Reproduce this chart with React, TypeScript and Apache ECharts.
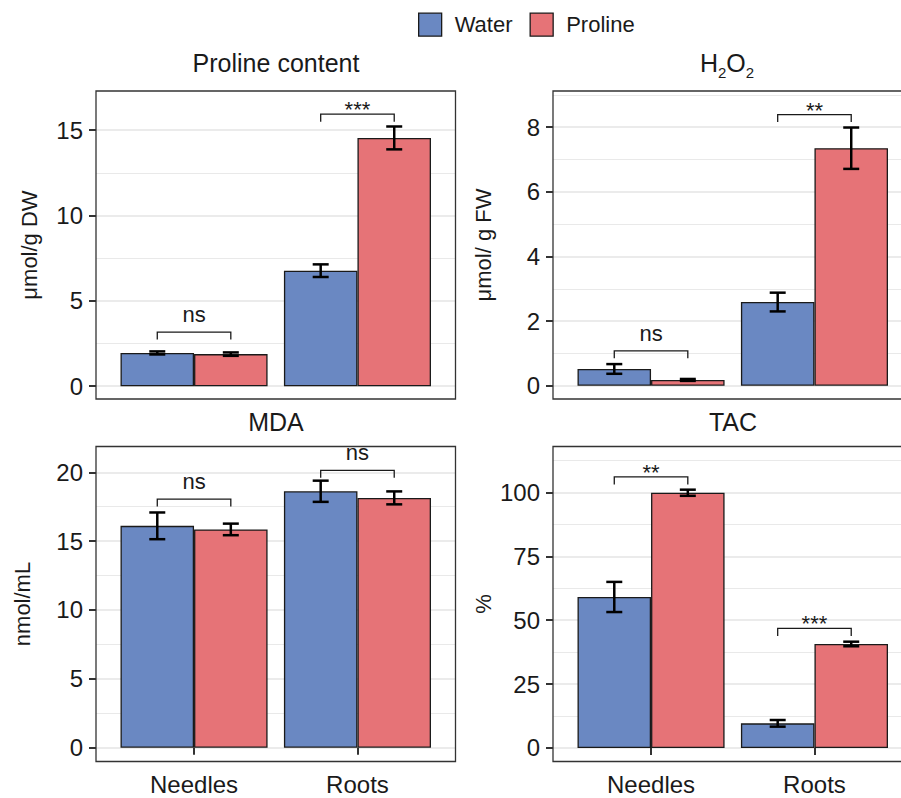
import React, { useEffect, useRef } from "react";
import * as echarts from "echarts";

// ---------- data ----------
const groups = ["Needles", "Roots"];
const seriesNames = ["Water", "Proline"];
const panelTitles = ["Proline content", "{a|H}{s|2}{a|O}{s|2}", "MDA", "TAC"];
const yAxisTitles = ["μmol/g DW", "μmol/ g FW", "nmol/mL", "%"];

const prolineWater = [1.95, 6.77];
const prolineWaterSE = [0.09, 0.37];
const prolineProline = [1.88, 14.55];
const prolineProlineSE = [0.1, 0.67];
const prolineTicks = [0, 5, 10, 15];
const prolineBracketY = [3.17, 15.94];
const prolineSig = ["ns", "***"];

const h2o2Water = [0.52, 2.59];
const h2o2WaterSE = [0.15, 0.29];
const h2o2Proline = [0.18, 7.35];
const h2o2ProlineSE = [0.03, 0.64];
const h2o2Ticks = [0, 2, 4, 6, 8];
const h2o2BracketY = [1.08, 8.39];
const h2o2Sig = ["ns", "**"];

const mdaWater = [16.11, 18.62];
const mdaWaterSE = [0.97, 0.77];
const mdaProline = [15.85, 18.14];
const mdaProlineSE = [0.42, 0.47];
const mdaTicks = [0, 5, 10, 15, 20];
const mdaBracketY = [18.05, 20.14];
const mdaSig = ["ns", "ns"];

const tacWater = [59.1, 9.64];
const tacWaterSE = [5.9, 1.3];
const tacProline = [99.9, 40.7];
const tacProlineSE = [1.2, 0.9];
const tacTicks = [0, 25, 50, 75, 100];
const tacBracketY = [106.1, 46.8];
const tacSig = ["**", "***"];

const yLimits = [
  [-0.75, 17.3],
  [-0.41, 9.12],
  [-1.0, 21.87],
  [-5.3, 118],
];
const xLimits = [0.4, 2.6];

// ---------- layout / style ----------
const FONT = "'Liberation Sans', Arial, Helvetica, sans-serif";
const COLORS = ["#6A88C2", "#E67377"];
const TEXT = "#1a1a1a";
const DODGE = 0.225; // half of a dodged bar width (0.45 units)

const PANELS = [
  { left: 96, top: 91, width: 359.5, height: 308, bottom: false, titleX: 276, titleY: 63, ytX: 29.5 },
  { left: 553, top: 91, width: 359.5, height: 308, bottom: false, titleX: 727, titleY: 63, ytX: 483 },
  { left: 96, top: 446.5, width: 359.5, height: 315, bottom: true, titleX: 276, titleY: 422, ytX: 22.5 },
  { left: 553, top: 446.5, width: 359.5, height: 315, bottom: true, titleX: 733, titleY: 422, ytX: 483 },
];

const panelData = [
  { w: prolineWater, wse: prolineWaterSE, p: prolineProline, pse: prolineProlineSE, ticks: prolineTicks, br: prolineBracketY, sig: prolineSig },
  { w: h2o2Water, wse: h2o2WaterSE, p: h2o2Proline, pse: h2o2ProlineSE, ticks: h2o2Ticks, br: h2o2BracketY, sig: h2o2Sig },
  { w: mdaWater, wse: mdaWaterSE, p: mdaProline, pse: mdaProlineSE, ticks: mdaTicks, br: mdaBracketY, sig: mdaSig },
  { w: tacWater, wse: tacWaterSE, p: tacProline, pse: tacProlineSE, ticks: tacTicks, br: tacBracketY, sig: tacSig },
];

function buildOption() {
  const grid: any[] = [];
  const xAxis: any[] = [];
  const yAxis: any[] = [];
  const series: any[] = [];
  const graphic: any[] = [];

  PANELS.forEach((pl, i) => {
    const d = panelData[i];
    const step = d.ticks[1] - d.ticks[0];
    grid.push({
      left: pl.left,
      top: pl.top,
      width: pl.width,
      height: pl.height,
      containLabel: false,
      outerBoundsMode: "none",
      show: false,
    });
    xAxis.push({
      type: "value",
      gridIndex: i,
      min: xLimits[0],
      max: xLimits[1],
      minInterval: 1,
      maxInterval: 1,
      axisLine: { show: false },
      splitLine: { show: false },
      axisTick: {
        show: pl.bottom,
        customValues: groups.map((_, j) => j + 1),
        length: 7,
        lineStyle: { color: "#333333", width: 2 },
      },
      axisLabel: {
        show: pl.bottom,
        customValues: groups.map((_, j) => j + 1),
        formatter: (v: number) => groups[Math.round(v) - 1] ?? "",
        margin: 11,
        fontSize: 24,
        color: TEXT,
        fontFamily: FONT,
      },
    });
    yAxis.push({
      type: "value",
      gridIndex: i,
      min: yLimits[i][0],
      max: yLimits[i][1],
      minInterval: step,
      maxInterval: step,
      axisLine: { show: false },
      axisTick: {
        show: true,
        customValues: d.ticks,
        length: 7,
        lineStyle: { color: "#333333", width: 2 },
      },
      axisLabel: {
        customValues: d.ticks,
        margin: 13,
        fontSize: 24,
        color: TEXT,
        fontFamily: FONT,
      },
      splitLine: { show: true, lineStyle: { color: "#EBEBEB", width: 2 } },
      minorTick: { show: false, splitNumber: 2 },
      minorSplitLine: { show: true, lineStyle: { color: "#E9E9E9", width: 1.2 } },
    });

    const vals = [d.w, d.p];
    const ses = [d.wse, d.pse];
    seriesNames.forEach((name, s) => {
      series.push({
        type: "bar",
        name,
        xAxisIndex: i,
        yAxisIndex: i,
        barWidth: "45%",
        barGap: "0%",
        itemStyle: { color: COLORS[s], borderColor: "#1a1a1a", borderWidth: 1.3 },
        data: vals[s].map((v, j) => [j + 1, v]),
        z: 2,
      });
    });
    // error bars
    seriesNames.forEach((_, s) => {
      const off = s === 0 ? -DODGE : DODGE;
      series.push({
        type: "custom",
        xAxisIndex: i,
        yAxisIndex: i,
        encode: { x: 0, y: [1, 2] },
        data: vals[s].map((v, j) => [j + 1 + off, v - ses[s][j], v + ses[s][j]]),
        z: 5,
        renderItem: (_p: any, api: any) => {
          const x = api.value(0);
          const lo = api.coord([x, api.value(1)]);
          const hi = api.coord([x, api.value(2)]);
          const cap = 8;
          const st = { stroke: "#000", lineWidth: 2.5 };
          return {
            type: "group",
            children: [
              { type: "line", shape: { x1: hi[0], y1: hi[1], x2: lo[0], y2: lo[1] }, style: st },
              { type: "line", shape: { x1: hi[0] - cap, y1: hi[1], x2: hi[0] + cap, y2: hi[1] }, style: st },
              { type: "line", shape: { x1: lo[0] - cap, y1: lo[1], x2: lo[0] + cap, y2: lo[1] }, style: st },
            ],
          };
        },
      });
    });
    // significance brackets
    series.push({
      type: "custom",
      xAxisIndex: i,
      yAxisIndex: i,
      encode: { x: [0, 1], y: 2 },
      data: groups.map((_, j) => [j + 1 - DODGE, j + 1 + DODGE, d.br[j], j]),
      z: 6,
      renderItem: (_p: any, api: any) => {
        const y = api.value(2);
        const a = api.coord([api.value(0), y]);
        const b = api.coord([api.value(1), y]);
        const label = d.sig[api.value(3)];
        const stars = label.indexOf("*") >= 0;
        const tip = 7.5;
        return {
          type: "group",
          children: [
            {
              type: "polyline",
              shape: { points: [[a[0], a[1] + tip], [a[0], a[1]], [b[0], b[1]], [b[0], b[1] + tip]] },
              style: { stroke: "#1a1a1a", lineWidth: 1.3, fill: "none" },
            },
            {
              type: "text",
              x: (a[0] + b[0]) / 2,
              y: a[1] - (stars ? 4.5 : 17.5),
              style: {
                text: label,
                fontSize: 22,
                fontFamily: FONT,
                fill: TEXT,
                align: "center",
                verticalAlign: "middle",
              },
            },
          ],
        };
      },
    });

    // panel frame
    graphic.push({
      type: "rect",
      silent: true,
      z: 100,
      shape: { x: pl.left, y: pl.top, width: pl.width, height: pl.height },
      style: { fill: "none", stroke: "#333333", lineWidth: 1.3 },
    });
    // panel title
    graphic.push({
      type: "text",
      silent: true,
      x: pl.titleX,
      y: pl.titleY,
      style: {
        text: panelTitles[i],
        fontSize: 25,
        fontFamily: FONT,
        fill: TEXT,
        align: "center",
        verticalAlign: "middle",
        rich: {
          a: { fontSize: 25, lineHeight: 34, fontFamily: FONT, fill: TEXT, verticalAlign: "middle" },
          s: { fontSize: 15, lineHeight: 15, fontFamily: FONT, fill: TEXT, verticalAlign: "bottom" },
        },
      },
    });
    // y-axis title
    graphic.push({
      type: "text",
      silent: true,
      x: pl.ytX,
      y: pl.top + pl.height / 2,
      rotation: Math.PI / 2,
      style: {
        text: yAxisTitles[i],
        fontSize: 22,
        fontFamily: FONT,
        fill: TEXT,
        align: "center",
        verticalAlign: "middle",
      },
    });
  });

  return {
    animation: false,
    backgroundColor: "#ffffff",
    textStyle: { fontFamily: FONT },
    legend: {
      data: seriesNames,
      left: 418,
      top: 12.5,
      padding: 0,
      itemWidth: 23,
      itemHeight: 23,
      itemGap: 17,
      icon: "rect",
      itemStyle: { borderColor: "#1a1a1a", borderWidth: 1.3 },
      textStyle: { fontSize: 22, color: TEXT, fontFamily: FONT, padding: [0, 0, 0, 8] },
      selectedMode: false,
    },
    grid,
    xAxis,
    yAxis,
    series,
    graphic,
  };
}

export default function App() {
  const ref = useRef<HTMLDivElement>(null);
  useEffect(() => {
    if (!ref.current) return;
    const chart = echarts.init(ref.current, undefined, { renderer: "svg" });
    chart.setOption(buildOption() as any);
    return () => chart.dispose();
  }, []);
  return (
    <div
      ref={ref}
      style={{ position: "absolute", left: 0, top: 0, width: 901, height: 798, background: "#fff" }}
    />
  );
}
